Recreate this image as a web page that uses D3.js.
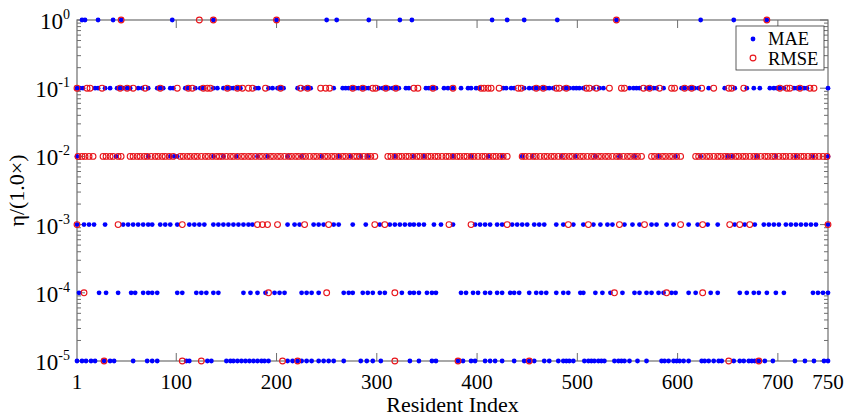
<!DOCTYPE html>
<html>
<head>
<meta charset="utf-8">
<script src="https://d3js.org/d3.v7.min.js"></script>
<style>
  body { margin: 0; background: #fff; }
  text { font-family: "Liberation Serif", "DejaVu Serif", serif; }
</style>
</head>
<body>
<script>
// x ticks
var xTicks = [1, 100, 200, 300, 400, 500, 600, 700, 750];
// y levels (exponents of ten)
var yExps = [0, -1, -2, -3, -4, -5];

// resident indices, per level and per series
var maeE0 = [6, 9, 22, 37, 45, 96, 137, 200, 250, 260, 292, 323, 335, 415, 430, 447, 480, 539, 623, 656, 689];
var maeE1 = [1, 4, 7, 19, 22, 29, 34, 41, 44, 47, 51, 54, 62, 66, 72, 81, 84, 87, 94, 97, 109, 112, 119, 124, 127, 137, 141, 147, 151, 154, 157, 161, 164, 179, 182, 192, 196, 201, 204, 207, 221, 227, 231, 234, 257, 266, 269, 272, 276, 279, 282, 286, 289, 292, 302, 306, 309, 312, 316, 319, 322, 329, 332, 349, 352, 356, 359, 367, 371, 376, 384, 391, 394, 399, 402, 426, 429, 434, 437, 447, 452, 456, 459, 462, 466, 469, 472, 476, 486, 489, 492, 496, 499, 502, 506, 516, 522, 526, 552, 556, 559, 562, 569, 572, 576, 579, 586, 604, 607, 611, 614, 617, 621, 631, 647, 657, 669, 676, 682, 692, 696, 699, 702, 706, 716, 719, 722, 726, 729, 750];
var maeE2 = [1, 40, 72, 94, 98, 101, 137, 147, 160, 181, 191, 211, 225, 245, 262, 274, 284, 291, 318, 337, 347, 376, 394, 411, 425, 445, 455, 484, 498, 518, 542, 557, 581, 598, 623, 650, 655, 679, 698, 718, 735, 750];
var maeE3 = [1, 8, 13, 18, 29, 47, 52, 57, 62, 67, 72, 76, 84, 89, 94, 101, 113, 118, 123, 128, 137, 142, 147, 152, 157, 162, 167, 172, 176, 211, 218, 223, 237, 242, 247, 257, 262, 276, 289, 303, 313, 318, 323, 328, 333, 337, 342, 347, 357, 364, 376, 398, 403, 408, 413, 420, 425, 435, 440, 445, 450, 457, 462, 467, 479, 486, 496, 506, 516, 523, 530, 535, 547, 555, 562, 574, 579, 589, 596, 611, 620, 630, 640, 657, 667, 677, 686, 691, 696, 701, 708, 713, 718, 723, 728, 733, 738, 750];
var maeE4 = [3, 23, 30, 42, 55, 59, 67, 72, 76, 81, 101, 106, 120, 125, 130, 137, 142, 167, 174, 181, 189, 198, 203, 208, 225, 230, 235, 242, 267, 272, 276, 286, 291, 296, 303, 308, 325, 333, 337, 342, 350, 355, 359, 384, 389, 396, 401, 408, 413, 420, 425, 433, 437, 442, 452, 459, 464, 469, 479, 486, 491, 503, 506, 518, 525, 533, 545, 557, 562, 569, 574, 581, 586, 594, 598, 611, 618, 633, 640, 662, 669, 676, 681, 689, 698, 706, 735, 740, 745, 750];
var maeE5 = [1, 6, 10, 15, 19, 28, 34, 38, 57, 71, 76, 81, 110, 113, 131, 135, 150, 154, 157, 161, 165, 169, 173, 177, 181, 185, 188, 192, 211, 216, 221, 225, 230, 235, 242, 247, 252, 257, 267, 284, 290, 296, 304, 333, 342, 355, 359, 381, 386, 394, 398, 408, 413, 418, 425, 437, 447, 452, 457, 467, 472, 481, 486, 489, 492, 496, 507, 511, 514, 517, 521, 524, 527, 537, 541, 544, 547, 552, 560, 569, 584, 587, 591, 596, 599, 602, 606, 611, 624, 627, 631, 636, 641, 644, 656, 662, 666, 671, 674, 677, 681, 687, 695, 717, 727, 736, 746, 750];

var rmseE0 = [45, 123, 137, 200, 539, 689];
var rmseE1 = [1, 11, 14, 26, 44, 51, 57, 69, 84, 101, 112, 116, 127, 131, 134, 151, 161, 166, 172, 176, 189, 204, 224, 231, 244, 249, 253, 276, 286, 296, 299, 309, 319, 337, 341, 356, 376, 404, 407, 411, 414, 422, 441, 444, 459, 466, 479, 482, 489, 509, 512, 519, 532, 544, 547, 566, 572, 582, 594, 597, 607, 614, 624, 636, 651, 654, 666, 702, 709, 712, 722, 732, 736];
var rmseE2 = [2, 6, 9, 13, 17, 27, 30, 34, 37, 42, 45, 54, 57, 61, 64, 68, 71, 75, 79, 82, 86, 89, 93, 97, 104, 107, 111, 114, 118, 121, 125, 129, 132, 136, 140, 143, 146, 150, 154, 157, 161, 165, 168, 172, 175, 179, 183, 186, 190, 194, 197, 201, 204, 208, 212, 215, 219, 222, 226, 229, 233, 237, 240, 244, 248, 251, 255, 258, 262, 266, 269, 273, 277, 280, 283, 287, 291, 294, 298, 311, 314, 318, 322, 325, 329, 332, 336, 340, 343, 347, 351, 354, 358, 361, 365, 369, 372, 376, 380, 383, 387, 390, 394, 397, 401, 405, 408, 412, 416, 419, 423, 426, 430, 445, 448, 452, 456, 459, 463, 467, 470, 474, 477, 481, 485, 488, 492, 495, 499, 503, 506, 510, 514, 517, 521, 524, 528, 531, 535, 539, 542, 546, 550, 553, 557, 560, 564, 574, 577, 581, 585, 588, 592, 595, 599, 603, 618, 621, 625, 629, 632, 636, 640, 643, 647, 650, 654, 658, 661, 665, 668, 672, 676, 679, 683, 687, 690, 694, 697, 701, 705, 708, 712, 716, 719, 723, 726, 730, 734, 737, 741, 745, 749];
var rmseE3 = [1, 42, 106, 181, 186, 191, 201, 228, 252, 298, 308, 372, 394, 430, 491, 511, 542, 567, 603, 625, 652, 662, 672, 750];
var rmseE4 = [8, 192, 250, 318, 537, 589, 625];
var rmseE5 = [28, 106, 125, 206, 221, 318, 381, 452, 651, 681];

var maeLevels = [maeE0, maeE1, maeE2, maeE3, maeE4, maeE5];
var rmseLevels = [rmseE0, rmseE1, rmseE2, rmseE3, rmseE4, rmseE5];

(function() {
  function toPoints(levels) {
    var pts = [];
    levels.forEach(function(list, k) {
      list.forEach(function(i) { pts.push({x: i, y: Math.pow(10, yExps[k])}); });
    });
    return pts;
  }
  var maePts = toPoints(maeLevels);
  var rmsePts = toPoints(rmseLevels);

  var W = 847, H = 418;
  var pLeft = 77, pRight = 828, pTop = 20, pBottom = 361;
  var dotR = 2.4, ringR = 2.9;

  var svg = d3.select("body").append("svg")
      .attr("width", W).attr("height", H);

  var x = d3.scaleLinear().domain([1, 750]).range([pLeft, pRight]);
  var y = d3.scaleLog().domain([1e-5, 1]).range([pBottom, pTop]);

  var axisColor = "#6e6e6e";

  // frame
  svg.append("rect")
      .attr("x", pLeft).attr("y", pTop)
      .attr("width", pRight - pLeft).attr("height", pBottom - pTop)
      .attr("fill", "none").attr("stroke", axisColor).attr("stroke-width", 1.2);

  // x ticks, inward on bottom and top
  var xInner = xTicks.filter(function(t) { return t !== 1 && t !== 750; });
  svg.append("g").selectAll("line").data(xInner).enter().append("line")
      .attr("x1", function(d) { return x(d); }).attr("x2", function(d) { return x(d); })
      .attr("y1", pBottom).attr("y2", pBottom - 8)
      .attr("stroke", axisColor);
  svg.append("g").selectAll("line").data(xInner).enter().append("line")
      .attr("x1", function(d) { return x(d); }).attr("x2", function(d) { return x(d); })
      .attr("y1", pTop).attr("y2", pTop + 8)
      .attr("stroke", axisColor);
  svg.append("g").selectAll("text").data(xTicks).enter().append("text")
      .attr("x", function(d) { return x(d); })
      .attr("y", 389)
      .attr("text-anchor", "middle")
      .style("font-size", "21px")
      .text(function(d) { return d; });

  // y ticks: majors and log minors on both sides
  var minors = [];
  yExps.forEach(function(e) {
    if (e === 0) return;
    for (var m = 2; m <= 9; m++) minors.push(m * Math.pow(10, e));
  });
  [pLeft, pRight].forEach(function(ax) {
    var dir = ax === pLeft ? 1 : -1;
    svg.append("g").selectAll("line").data(yExps).enter().append("line")
        .attr("x1", ax).attr("x2", ax + dir * 8)
        .attr("y1", function(e) { return y(Math.pow(10, e)); })
        .attr("y2", function(e) { return y(Math.pow(10, e)); })
        .attr("stroke", axisColor);
    svg.append("g").selectAll("line").data(minors).enter().append("line")
        .attr("x1", ax).attr("x2", ax + dir * 4)
        .attr("y1", function(v) { return y(v); })
        .attr("y2", function(v) { return y(v); })
        .attr("stroke", axisColor);
  });

  var yl = svg.append("g").selectAll("text").data(yExps).enter().append("text")
      .attr("x", 70)
      .attr("y", function(e) { return y(Math.pow(10, e)) + 9; })
      .attr("text-anchor", "end")
      .style("font-size", "23px");
  yl.append("tspan").text("10");
  yl.append("tspan").attr("dy", -10).style("font-size", "14px")
      .text(function(e) { return String(e); });

  // axis titles
  svg.append("text")
      .attr("x", (pLeft + pRight) / 2).attr("y", 412)
      .attr("text-anchor", "middle")
      .style("font-size", "22px")
      .text("Resident Index");
  svg.append("text")
      .attr("transform", "translate(24," + ((pTop + pBottom) / 2) + ")rotate(-90)")
      .attr("text-anchor", "middle")
      .style("font-size", "22px")
      .text("\u03b7/(1.0\u00d7)");

  // points
  svg.append("g").selectAll("circle").data(maePts).enter().append("circle")
      .attr("cx", function(d) { return x(d.x); })
      .attr("cy", function(d) { return y(d.y); })
      .attr("r", dotR)
      .attr("fill", "#0000ff");
  svg.append("g").selectAll("circle").data(rmsePts).enter().append("circle")
      .attr("cx", function(d) { return x(d.x); })
      .attr("cy", function(d) { return y(d.y); })
      .attr("r", ringR)
      .attr("fill", "none")
      .attr("stroke", "#e8141a")
      .attr("stroke-width", 1.1);

  // legend
  var lg = svg.append("g").attr("transform", "translate(736,26)");
  lg.append("rect").attr("width", 88).attr("height", 44)
      .attr("fill", "#fff").attr("stroke", "#333").attr("stroke-width", 0.8);
  lg.append("circle").attr("cx", 17).attr("cy", 13).attr("r", dotR).attr("fill", "#0000ff");
  lg.append("circle").attr("cx", 17).attr("cy", 32).attr("r", ringR)
      .attr("fill", "none").attr("stroke", "#e8141a").attr("stroke-width", 1.1);
  lg.append("text").attr("x", 32).attr("y", 19).style("font-size", "18.5px").text("MAE");
  lg.append("text").attr("x", 32).attr("y", 39).style("font-size", "18.5px").text("RMSE");
})();
</script>
</body>
</html>
